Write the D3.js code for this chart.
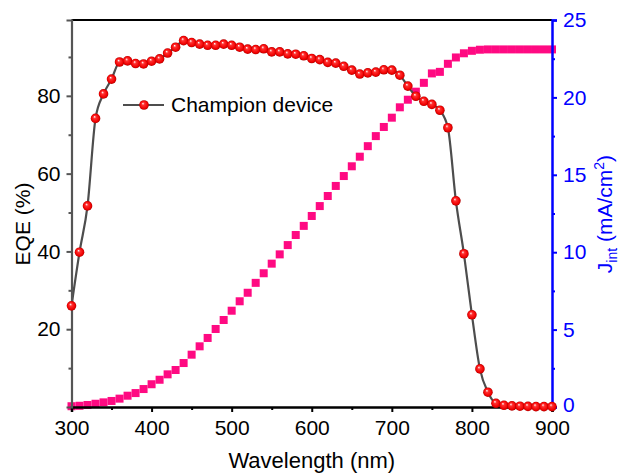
<!DOCTYPE html>
<html><head><meta charset="utf-8">
<script src="https://cdn.jsdelivr.net/npm/d3@7"></script>
<style>body{margin:0;background:#fff}svg{display:block;font-family:"Liberation Sans",Arial,sans-serif}</style>
</head><body>
<svg id="c" width="621" height="475"></svg>
<script>
const wavelengths = d3.range(300, 901, 10);
const eqe = [26.0,39.8,51.7,74.2,80.5,84.3,88.7,89.0,88.3,88.2,88.9,89.5,91.0,92.5,94.2,93.7,93.3,93.0,93.0,93.3,
  93.0,92.5,92.0,91.9,92.1,91.3,91.3,90.8,90.7,90.3,89.6,89.3,88.6,88.4,87.6,86.6,85.6,85.9,86.1,86.7,
  86.6,85.3,82.5,79.9,78.6,77.8,76.3,71.8,53.0,39.4,23.7,9.8,3.8,0.95,0.44,0.3,0.2,0.15,0.1,0.1,0.1];
const jint = [0.05,0.08,0.13,0.21,0.30,0.39,0.54,0.73,0.90,1.16,1.47,1.76,2.11,2.39,2.84,3.38,3.92,4.46,5.04,5.62,
  6.22,6.83,7.38,8.02,8.64,9.26,9.86,10.46,11.11,11.70,12.34,12.98,13.63,14.28,14.92,15.55,16.17,16.85,17.50,18.09,
  18.69,19.36,19.85,20.37,20.94,21.55,21.65,22.17,22.58,22.85,23.01,23.08,23.1,23.1,23.1,23.1,23.1,23.1,23.1,23.1,23.1];
const xTicks = [300,400,500,600,700,800,900];
const yLeftTicks = [20,40,60,80];
const yRightTicks = [0,5,10,15,20,25];
const legendLabel = "Champion device";

const svg = d3.select("#c");
const L = 71.5, R = 552, T = 20, B = 407;
const x = d3.scaleLinear([300,900],[L,R]);
const yL = d3.scaleLinear([0,99.5],[B,T]);
const yR = d3.scaleLinear([0,25],[B,T]);

const defs = svg.append("defs");
const g = defs.append("radialGradient").attr("id","ball").attr("cx","50%").attr("cy","50%").attr("r","50%").attr("fx","38%").attr("fy","32%");
g.append("stop").attr("offset","0%").attr("stop-color","#ffffff");
g.append("stop").attr("offset","30%").attr("stop-color","#ff3030");
g.append("stop").attr("offset","80%").attr("stop-color","#f00000");
g.append("stop").attr("offset","100%").attr("stop-color","#b00000");

// J_int squares
const jd = wavelengths.map((w,i)=>({w, v:jint[i]}));
svg.append("g").selectAll("rect").data(jd).join("rect")
  .attr("x", d=>x(d.w)-4).attr("y", d=>yR(d.v)-4).attr("width",8).attr("height",8)
  .attr("fill","#ff0a82");

// EQE line
const ed = wavelengths.map((w,i)=>({w, v:eqe[i]}));
svg.append("path").datum(ed)
  .attr("d", d3.line().x(d=>x(d.w)).y(d=>yL(d.v)).curve(d3.curveMonotoneX))
  .attr("fill","none").attr("stroke","#4d4d4d").attr("stroke-width",2.2);

// Axes
const fs = "21px";
// bottom
const xAx = d3.axisBottom(x).tickValues(xTicks).tickSize(5).tickPadding(8).tickFormat(d3.format("d"));
const gx = svg.append("g").attr("transform",`translate(0,${B})`).call(xAx);
gx.select(".domain").attr("stroke","#000").attr("stroke-width",2.5);
gx.selectAll(".tick line").attr("stroke","#000").attr("stroke-width",2);
gx.selectAll("text").attr("font-size",fs).attr("fill","#000").attr("font-family","Liberation Sans, Arial, sans-serif");
svg.append("g").attr("transform",`translate(0,${B})`)
  .call(d3.axisBottom(x).tickValues([350,450,550,650,750,850]).tickSize(3).tickFormat(""))
  .call(s=>{s.select(".domain").remove(); s.selectAll("line").attr("stroke","#000").attr("stroke-width",2);});
// top border
svg.append("line").attr("x1",L).attr("x2",R).attr("y1",T).attr("y2",T).attr("stroke","#000").attr("stroke-width",2.2);

// left
const gl = svg.append("g").attr("transform",`translate(${L},0)`)
  .call(d3.axisLeft(yL).tickValues(yLeftTicks).tickSize(5).tickPadding(6));
gl.select(".domain").attr("stroke","#555").attr("stroke-width",2.2);
gl.selectAll(".tick line").attr("stroke","#555").attr("stroke-width",2);
gl.selectAll("text").attr("font-size",fs).attr("fill","#000").attr("font-family","Liberation Sans, Arial, sans-serif");
svg.append("g").attr("transform",`translate(${L},0)`)
  .call(d3.axisLeft(yL).tickValues([10,30,50,70,90]).tickSize(3).tickFormat(""))
  .call(s=>{s.select(".domain").remove(); s.selectAll("line").attr("stroke","#555").attr("stroke-width",2);});

// right
const gr = svg.append("g").attr("transform",`translate(${R},0)`)
  .call(d3.axisRight(yR).tickValues(yRightTicks).tickSize(5).tickPadding(6));
gr.select(".domain").attr("stroke","#0000ff").attr("stroke-width",2.5);
gr.selectAll(".tick line").attr("stroke","#0000ff").attr("stroke-width",2);
gr.selectAll("text").attr("font-size",fs).attr("fill","#0000ff").attr("font-family","Liberation Sans, Arial, sans-serif");
gr.selectAll(".tick").filter(d=>d===0).select("text").attr("dy","0.2em");
svg.append("g").attr("transform",`translate(${R},0)`)
  .call(d3.axisRight(yR).tickValues([2.5,7.5,12.5,17.5,22.5]).tickSize(3).tickFormat(""))
  .call(s=>{s.select(".domain").remove(); s.selectAll("line").attr("stroke","#0000ff").attr("stroke-width",2);});

// EQE markers
svg.append("g").selectAll("circle").data(ed).join("circle")
  .attr("cx", d=>x(d.w)).attr("cy", d=>yL(d.v)).attr("r",4.8)
  .attr("fill","url(#ball)");

// legend
svg.append("line").attr("x1",123).attr("x2",164).attr("y1",105).attr("y2",105).attr("stroke","#4d4d4d").attr("stroke-width",2.2);
svg.append("circle").attr("cx",144).attr("cy",105).attr("r",4.8).attr("fill","url(#ball)");
svg.append("text").attr("x",171).attr("y",112).attr("font-size","21px").attr("fill","#000").text(legendLabel);

// axis titles
svg.append("text").attr("x",(L+R)/2).attr("y",468).attr("text-anchor","middle").attr("font-size","22px").attr("fill","#000").text("Wavelength (nm)");
svg.append("text").attr("transform","translate(30,224) rotate(-90)").attr("text-anchor","middle").attr("font-size","21px").attr("fill","#000").text("EQE (%)");
const jt = svg.append("text").attr("transform","translate(612,214) rotate(-90)").attr("text-anchor","middle").attr("font-size","21px").attr("fill","#0000ff");
jt.append("tspan").text("J");
jt.append("tspan").attr("font-size","14px").attr("dy",5).text("int");
jt.append("tspan").attr("dy",-5).text(" (mA/cm");
jt.append("tspan").attr("font-size","14px").attr("dy",-8).text("2");
jt.append("tspan").attr("dy",8).text(")");
</script>
</body></html>
